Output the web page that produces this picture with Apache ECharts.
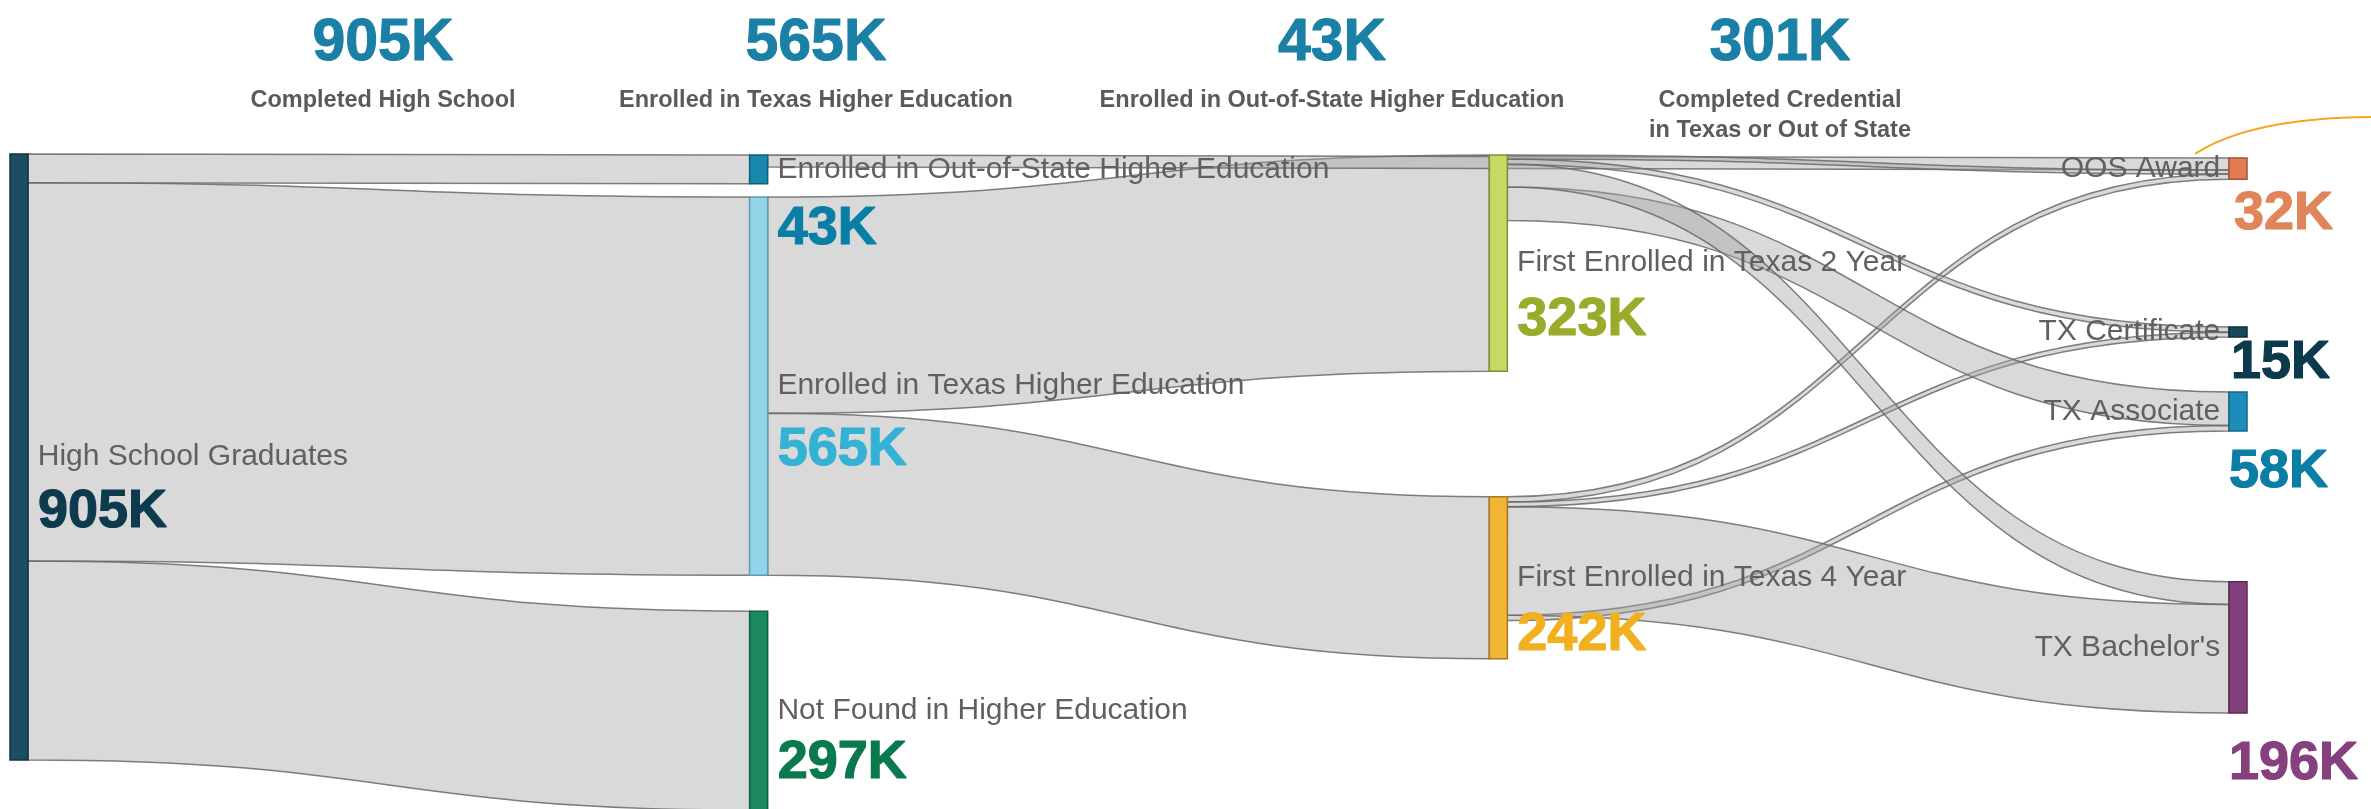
<!DOCTYPE html>
<html>
<head>
<meta charset="utf-8">
<title>From high school to credential</title>
<script src="https://cdn.jsdelivr.net/npm/echarts@6/dist/echarts.min.js"></script>
<style>
  html, body { margin: 0; padding: 0; background: #fff; }
  #main { width: 2371px; height: 809px; }
</style>
</head>
<body>
<div id="main"></div>
<script>
// nodes, column by column (last column in link-stacking order)
const nodeNames = [
  'High School Graduates',
  'Enrolled in Out-of-State Higher Education',
  'Enrolled in Texas Higher Education',
  'Not Found in Higher Education',
  'First Enrolled in Texas 2 Year',
  'First Enrolled in Texas 4 Year',
  'OOS Award',
  'TX Certificate',
  "TX Bachelor's",
  'TX Associate'
];
const nodeColumns = [0, 1, 1, 1, 2, 2, 3, 3, 3, 3];

// flows, in thousands of students
const linkSources = [0, 0, 0, 2, 2, 1, 4, 5, 4, 5, 4, 5, 4, 5];
const linkTargets = [1, 2, 3, 4, 5, 6, 6, 6, 7, 7, 9, 9, 8, 8];
const linkValues  = [43, 565, 297, 323, 242, 18, 6, 8, 8, 7, 50, 8, 34, 162];

// stage headers
const stageTotals = ['905K', '565K', '43K', '301K'];
const stageTitles = [
  'Completed High School',
  'Enrolled in Texas Higher Education',
  'Enrolled in Out-of-State Higher Education',
  'Completed Credential\nin Texas or Out of State'
];

// ---- look & layout ----
const nodeColors   = ['#1b4e62', '#1a87ad', '#93d4e8', '#1a8a5e', '#c6d960', '#f3b634', '#e37c55', '#17495b', '#843f7d', '#1d8cba'];
const nodeBorders  = ['#0f3544', '#0f5f7c', '#5c9fb5', '#0e6140', '#7e8d3a', '#a57a20', '#a5533a', '#0c2f3c', '#5a2a55', '#136486'];
const valueColors  = ['#0d3a4d', '#0a7fa5', '#33b2d6', '#0a7a4c', '#9aab2b', '#f0b020', '#e0845a', '#0b3a4c', '#86407e', '#0a7ea4'];
const nodeLocalY   = [0, 0.0015, 0.0657, 0.699, 0.0015, 0.524, 0.006, 0.2645, 0.654, 0.364];
const stageCenters = [383, 816, 1332, 1780];
// value label offsets: below the node centre (first columns) or from the bottom-left corner (last column)
const valueOffsets = [[10, 55], [10, 60], [10, 64], [10, 53], [10, 57], [10, 57], [5, 35], [2, 26], [0, 51], [0, 41]];

const textFont = "'Liberation Sans', Arial, sans-serif";

const layoutBox = {
  left: 10, right: 124, top: 154, bottom: 1,
  nodeWidth: 18, nodeGap: 24,
  layoutIterations: 0, nodeAlign: 'left',
  draggable: false,
  emphasis: { disabled: true }
};

const links = linkValues.map((v, i) => ({
  source: nodeNames[linkSources[i]],
  target: nodeNames[linkTargets[i]],
  value: v
}));

// names
const nameNodes = nodeNames.map((name, i) => ({
  name,
  depth: nodeColumns[i],
  localY: nodeLocalY[i],
  itemStyle: { color: nodeColors[i], borderColor: nodeBorders[i], borderWidth: 1.5 },
  label: nodeColumns[i] === 3
    ? { position: 'left', distance: 8 }
    : { position: ['100%', '50%'], offset: [9, 0], align: 'left', verticalAlign: 'middle' }
}));

// values, drawn by a transparent copy of the same sankey
const valueNodes = nodeNames.map((name, i) => ({
  name,
  depth: nodeColumns[i],
  localY: nodeLocalY[i],
  itemStyle: { opacity: 0 },
  label: {
    position: nodeColumns[i] === 3 ? ['0%', '100%'] : ['100%', '50%'],
    offset: valueOffsets[i],
    align: 'left',
    verticalAlign: 'middle',
    color: valueColors[i],
    textBorderColor: valueColors[i],
    textBorderWidth: 1.2
  }
}));

const chart = echarts.init(document.getElementById('main'));

chart.setOption({
  backgroundColor: '#ffffff',
  animation: false,
  title: stageTotals.map((t, i) => ({
    text: t,
    subtext: stageTitles[i],
    left: stageCenters[i],
    top: 13,
    textAlign: 'center',
    padding: 0,
    itemGap: 11,
    textStyle: {
      fontFamily: textFont,
      fontWeight: 'bold', fontSize: 59, lineHeight: 62, color: '#1a80a6',
      textBorderColor: '#1a80a6', textBorderWidth: 1
    },
    subtextStyle: {
      fontFamily: textFont,
      fontWeight: 'bold', fontSize: 23.5, lineHeight: 30, color: '#5a5a5a'
    }
  })),
  graphic: [{
    type: 'bezierCurve',
    shape: { x1: 2195, y1: 154, cpx1: 2250, cpy1: 118, x2: 2371, y2: 117 },
    style: { stroke: '#f4a622', lineWidth: 2, fill: null }
  }],
  series: [
    Object.assign({
      type: 'sankey',
      data: nameNodes,
      links: links,
      lineStyle: {
        color: 'rgba(165,165,165,0.42)',
        borderColor: 'rgba(105,105,105,0.85)',
        borderWidth: 1.5,
        opacity: 1,
        curveness: 0.5
      },
      label: {
        fontFamily: textFont,
        fontSize: 30,
        color: '#606060'
      }
    }, layoutBox),
    Object.assign({
      type: 'sankey',
      silent: true,
      data: valueNodes,
      links: links,
      lineStyle: { opacity: 0 },
      label: {
        fontFamily: textFont,
        fontSize: 54,
        fontWeight: 'bold',
        formatter: p => p.value + 'K'
      }
    }, layoutBox)
  ]
});
</script>
</body>
</html>
